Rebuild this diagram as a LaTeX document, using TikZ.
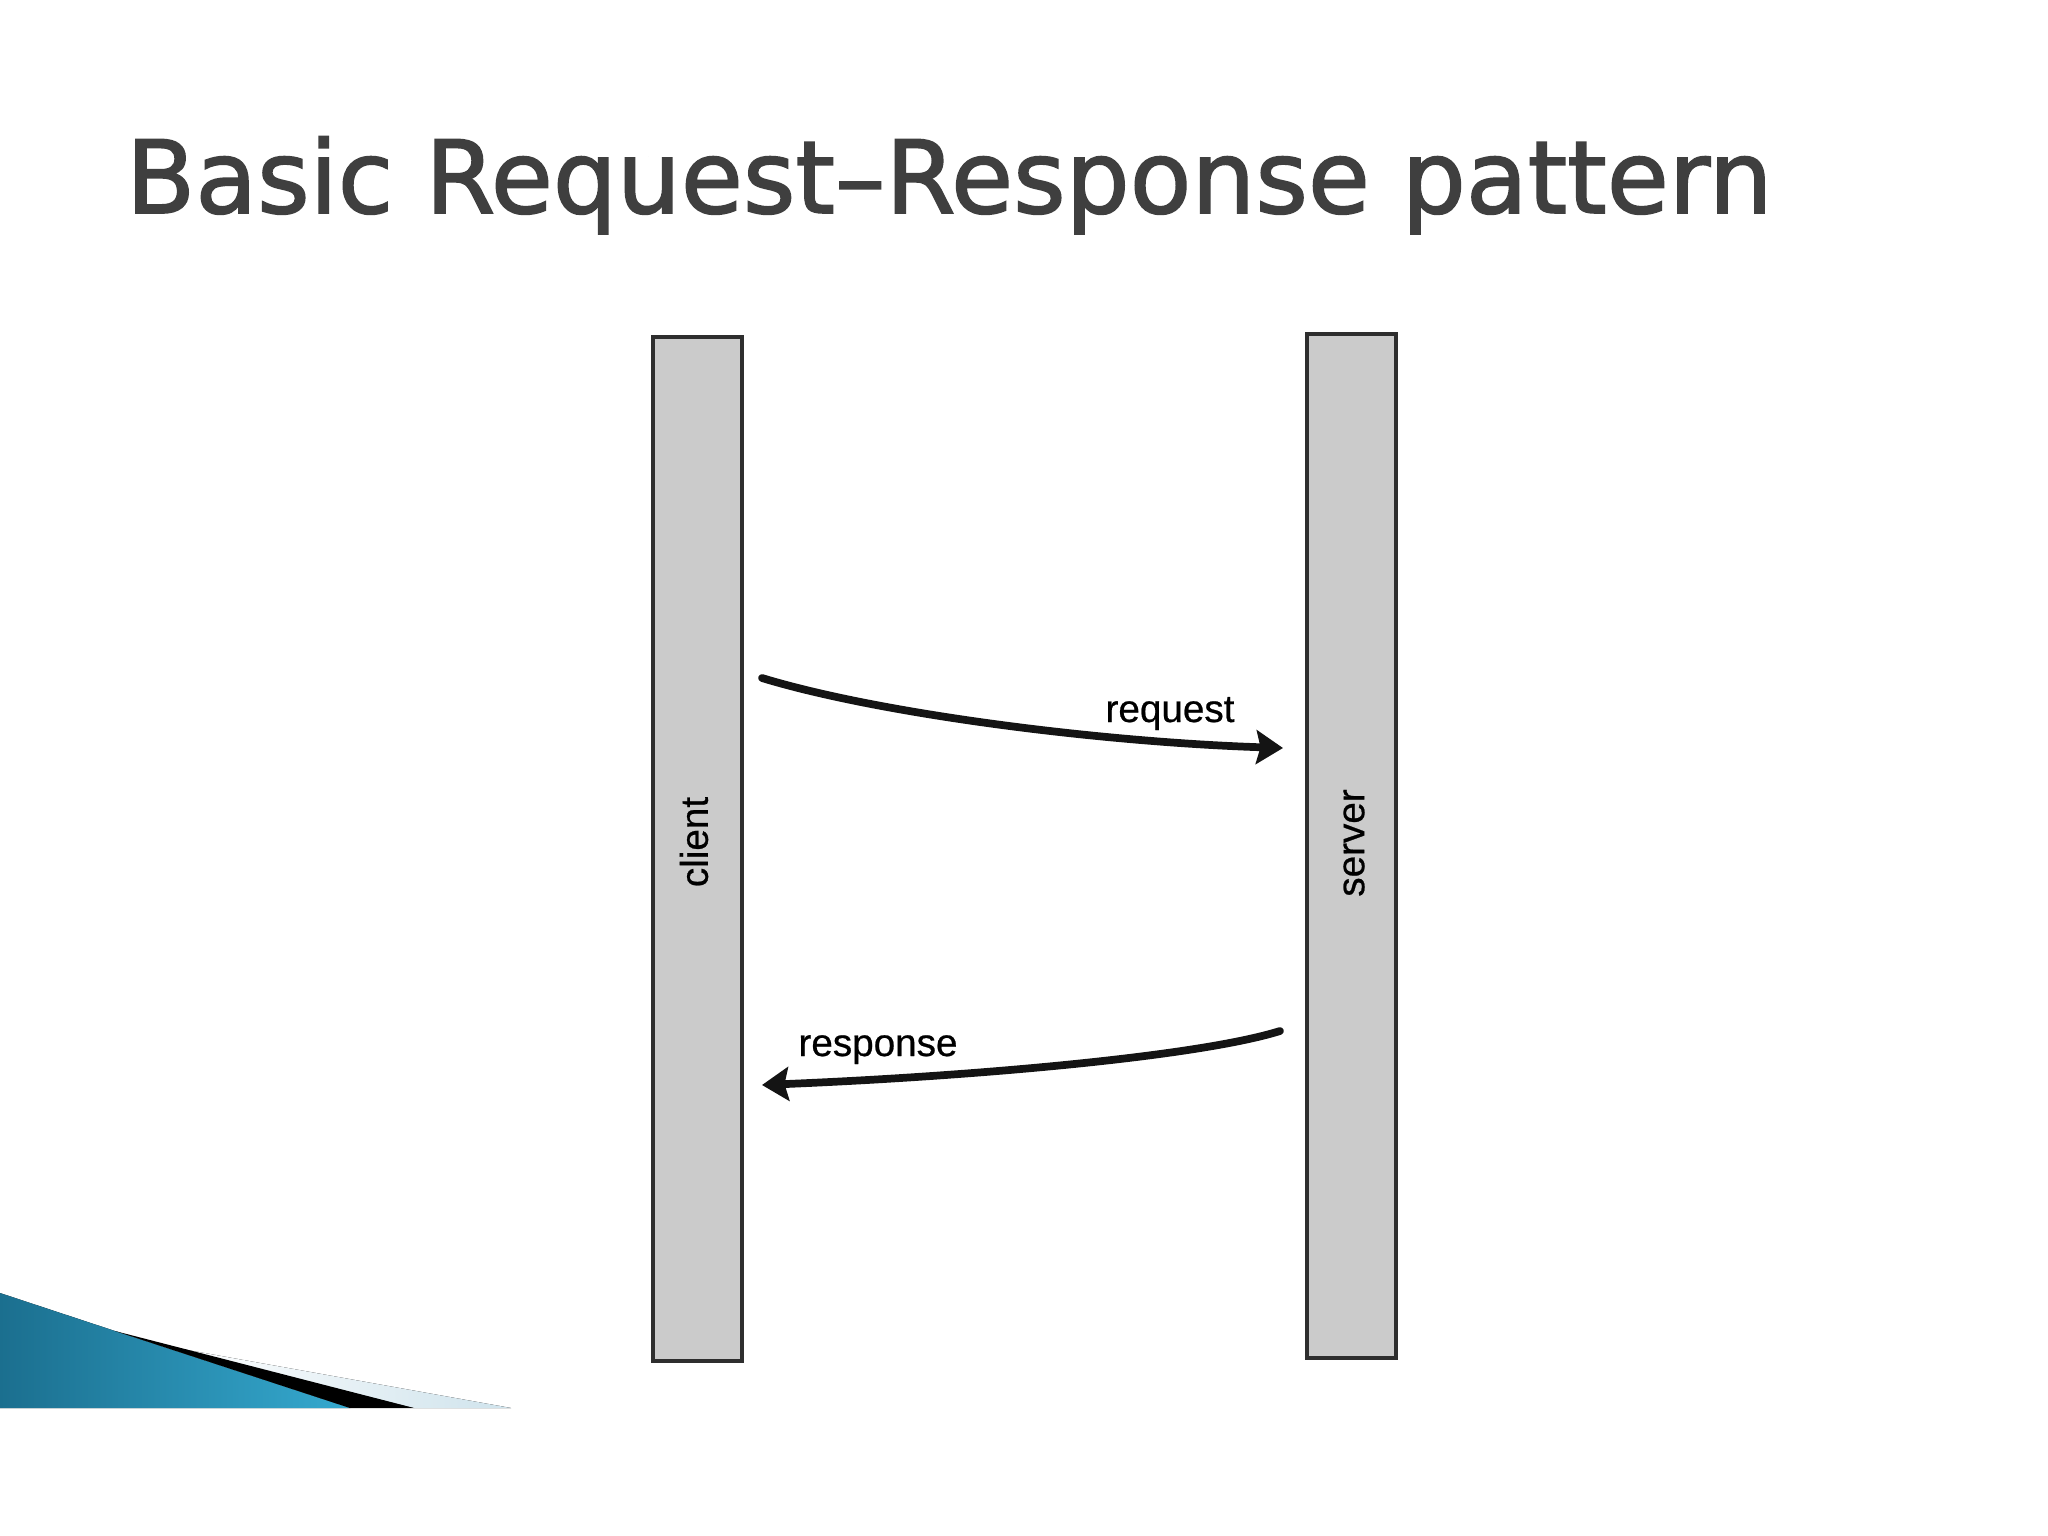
\documentclass[tikz,border=0pt]{standalone}
\usepackage{fontspec}
\setmainfont{Liberation Sans}
\newfontfamily\titlefont[FakeBold=1.6]{DejaVu Sans}
\newfontfamily\lblfont[FakeBold=0.6]{Liberation Sans}
\usetikzlibrary{arrows.meta}
\definecolor{bargray}{HTML}{CBCBCB}
\definecolor{barline}{HTML}{2E2E2E}
\definecolor{titlegray}{HTML}{3F3F3F}
\definecolor{tealdark}{HTML}{1B6F8F}
\definecolor{teallight}{HTML}{35A9CF}
\definecolor{paleblue}{HTML}{CFE3EC}
\begin{document}
\begin{tikzpicture}[x=0.05cm,y=-0.05cm,
  bar/.style={draw=barline, fill=bargray, line width=5.5pt, minimum width=4.45cm, minimum height=51.2cm, inner sep=0pt},
  lbl/.style={font=\lblfont\fontsize{55}{60}\selectfont, inner sep=0pt},
  msg/.style={line width=11pt, draw=black!92, line cap=round, -{Stealth[length=38pt,width=48pt,inset=6pt]}}]
\useasboundingbox[fill=white] (0,0) rectangle (2048,1536);
% title
\node[anchor=base west, text=titlegray, font=\titlefont\fontsize{143.5}{160}\selectfont, inner sep=0pt] (title) at (126,213) {Basic Request–Response pattern};
% swoosh
\fill[left color=tealdark, right color=teallight] (0,1293) -- (121,1333) -- (350,1408) -- (0,1408) -- cycle;
\fill[left color=white, right color=paleblue] (171,1347) -- (511,1408) -- (414,1408) -- cycle;
\fill[black] (115,1331) -- (414,1408) -- (350,1408) -- cycle;
% bars
\node[bar] (client) at (697.5,849) {};
\node[bar] (server) at (1351.5,846) {};
\node[lbl, rotate=90] (clientlbl) at (694,842) {client};
\node[lbl, rotate=90] (serverlbl) at (1354,843) {server};
% messages
\coordinate (reqS) at (762,678);
\coordinate (reqE) at (1283,748);
\draw[msg] (reqS) .. controls (880,714) and (1100,742) .. (reqE);
\node[lbl, anchor=base] (reqlbl) at (1170,722) {request};
\coordinate (resS) at (1280,1031);
\coordinate (resE) at (762,1085);
\draw[msg] (resS) .. controls (1200,1056) and (980,1076) .. (resE);
\node[lbl, anchor=base] (reslbl) at (878,1056) {response};
\end{tikzpicture}
\end{document}
